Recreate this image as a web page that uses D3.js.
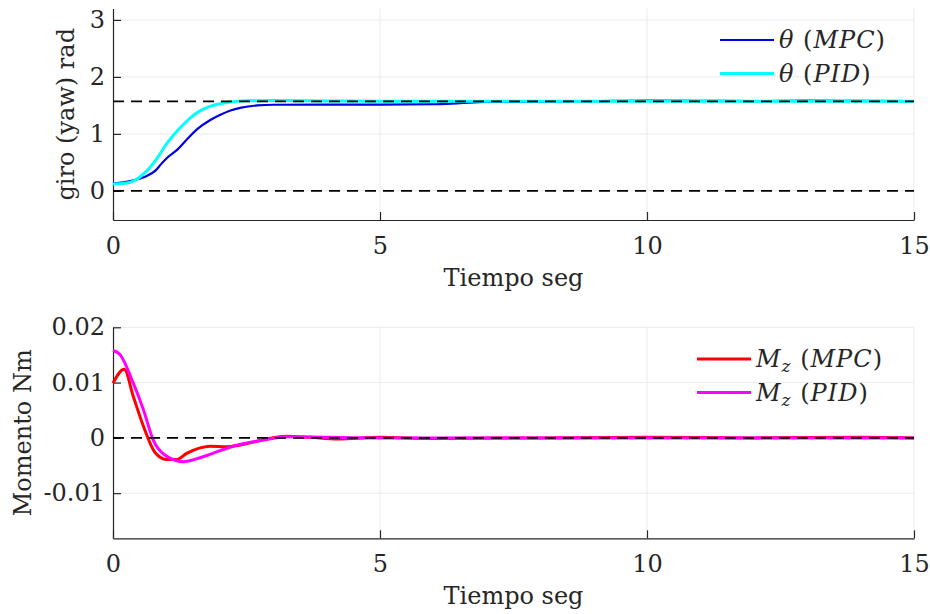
<!DOCTYPE html>
<html><head><meta charset="utf-8">
<script src="https://cdn.jsdelivr.net/npm/d3@7"></script>
<style>
body{margin:0;background:#fff;}
text{font-family:"DejaVu Serif","Liberation Serif",serif;fill:#262626;}
</style></head>
<body><svg id="c" width="930" height="614"></svg>
<script>
// ---- data ----
const xTicks = [0, 5, 10, 15];
const yawTicks = [0, 1, 2, 3];
const momTicks = [-0.01, 0, 0.01, 0.02];
const momTickLabels = ["-0.01", "0", "0.01", "0.02"];
const yawRef = [0, Math.PI / 2];
const momRef = [0];

const tMPC = [0, 0.2, 0.4, 0.6, 0.8, 0.9, 1.0, 1.2, 1.4, 1.6, 1.8, 2.0, 2.2, 2.4, 2.7, 3.0, 4, 5, 6, 6.5, 7, 8, 9, 10, 11, 12, 13, 14, 15];
const yawMPC = [0.13, 0.15, 0.19, 0.25, 0.36, 0.47, 0.57, 0.72, 0.92, 1.10, 1.23, 1.33, 1.41, 1.46, 1.50, 1.512, 1.515, 1.515, 1.52, 1.54, 1.56, 1.568, 1.575, 1.585, 1.582, 1.575, 1.585, 1.58, 1.575];
const tPID = [0, 0.2, 0.4, 0.6, 0.8, 1.0, 1.2, 1.4, 1.6, 1.8, 2.0, 2.2, 2.5, 3.0, 4, 5, 7, 10, 15];
const yawPID = [0.12, 0.13, 0.18, 0.32, 0.54, 0.82, 1.05, 1.24, 1.39, 1.48, 1.53, 1.56, 1.58, 1.585, 1.578, 1.572, 1.571, 1.571, 1.571];

const tMomMPC = [0, 0.21, 0.38, 0.57, 0.79, 1.0, 1.19, 1.38, 1.63, 1.82, 2.13, 2.57, 2.88, 3.25, 3.69, 4.2, 5, 6, 8, 10, 12, 14, 15];
const momMPC = [0.0099, 0.0124, 0.0075, 0.0021, -0.0027, -0.0039, -0.0039, -0.0028, -0.0018, -0.0015, -0.0016, -0.0009, -0.0002, 0.0003, 0.0001, -0.0002, 0.0001, -0.0001, 0.0, 0.0001, 0.0, 0.0001, 0.0];
const tMomPID = [0, 0.13, 0.38, 0.57, 0.75, 1.0, 1.32, 1.63, 2.25, 2.88, 3.25, 4, 5, 8, 15];
const momPID = [0.0158, 0.0151, 0.0099, 0.0051, -0.0003, -0.0033, -0.0043, -0.0036, -0.0015, -0.0003, 0.0002, 0.0001, 0.0, 0.0, 0.0];

const svg = d3.select("#c");
const left = 113, right = 914;
const FONT = '"DejaVu Serif","Liberation Serif",serif';
const x = d3.scaleLinear().domain([0, 15]).range([left, right]);

function panel(opts) {
  const y = d3.scaleLinear().domain(opts.yDomain).range([opts.bottom, opts.top]);
  const g = svg.append("g");
  // grid
  g.selectAll(".gx").data(xTicks.slice(1)).join("line")
    .attr("x1", d => x(d)).attr("x2", d => x(d)).attr("y1", opts.top).attr("y2", opts.bottom)
    .attr("stroke", "#ebebeb").attr("stroke-width", 1);
  g.selectAll(".gy").data(opts.yTicks).join("line")
    .attr("x1", left).attr("x2", right).attr("y1", d => y(d)).attr("y2", d => y(d))
    .attr("stroke", "#ebebeb").attr("stroke-width", 1);
  // axes (ticks inward)
  const xa = g.append("g").attr("transform", `translate(0,${opts.bottom})`)
    .call(d3.axisBottom(x).tickValues(xTicks).tickSizeInner(-8).tickSizeOuter(0).tickPadding(17));
  const ya = g.append("g").attr("transform", `translate(${left},0)`)
    .call(d3.axisLeft(y).tickValues(opts.yTicks).tickFormat((d, i) => opts.yLabels[i]).tickSizeInner(-8).tickSizeOuter(0).tickPadding(8));
  [xa, ya].forEach(a => {
    a.select(".domain").attr("stroke", "#262626").attr("stroke-width", 1.2);
    a.selectAll(".tick line").attr("stroke", "#262626").attr("stroke-width", 1.2);
    a.selectAll("text").attr("font-size", 24).attr("fill", "#262626").attr("font-family", FONT);
  });
  // series
  opts.series.forEach(s => {
    const pts = s.t.map((t, i) => [t, s.v[i]]);
    g.append("path").datum(pts)
      .attr("d", d3.line().x(d => x(d[0])).y(d => y(d[1])).curve(d3.curveMonotoneX))
      .attr("fill", "none").attr("stroke", s.color).attr("stroke-width", s.w)
      .attr("stroke-linejoin", "round");
  });
  // reference dashed lines
  g.selectAll(".ref").data(opts.refs).join("line")
    .attr("x1", left).attr("x2", right).attr("y1", d => y(d)).attr("y2", d => y(d))
    .attr("stroke", "#000").attr("stroke-width", 1.8).attr("stroke-dasharray", "11,7");
  // axis labels
  g.append("text").attr("x", x(7.5)).attr("y", opts.bottom + 66)
    .attr("text-anchor", "middle").attr("font-size", 24).attr("font-family", FONT).text("Tiempo seg");
  g.append("text").attr("transform", `translate(${opts.yLabelX},${(opts.top + opts.bottom) / 2}) rotate(-90)`)
    .attr("text-anchor", "middle").attr("font-size", 24).attr("font-family", FONT).text(opts.yTitle);
  // legend
  opts.series.forEach((s, i) => {
    const ly = opts.legY + i * 33.5;
    g.append("line").attr("x1", opts.legX).attr("x2", opts.legX + 54).attr("y1", ly).attr("y2", ly)
      .attr("stroke", s.color).attr("stroke-width", s.w);
    const t = g.append("text").attr("x", opts.legX + 59).attr("y", ly + 8).attr("font-size", 24)
      .attr("font-family", FONT).attr("fill", "#000").attr("letter-spacing", 1);
    s.label(t);
  });
}

function mathLabel(sym, sub, ctrl) {
  return t => {
    t.append("tspan").attr("font-style", "italic").text(sym);
    if (sub) t.append("tspan").attr("font-style", "italic").attr("font-size", 17).attr("dy", 5).text(sub);
    t.append("tspan").attr("dy", sub ? -5 : 0).text(" (");
    t.append("tspan").attr("font-style", "italic").text(ctrl);
    t.append("tspan").text(")");
  };
}

panel({
  top: 8.5, bottom: 220, yDomain: [-0.51, 3.2], yTicks: yawTicks, yLabels: yawTicks.map(String),
  refs: yawRef, yTitle: "giro (yaw) rad", yLabelX: 74,
  legX: 720, legY: 40,
  series: [
    {t: tMPC, v: yawMPC, color: "#0000e6", w: 2.2, label: mathLabel("θ", null, "MPC")},
    {t: tPID, v: yawPID, color: "#00ffff", w: 3, label: mathLabel("θ", null, "PID")}
  ]
});
panel({
  top: 327.3, bottom: 538.3, yDomain: [-0.01816, 0.02], yTicks: momTicks, yLabels: momTickLabels,
  refs: momRef, yTitle: "Momento Nm", yLabelX: 31,
  legX: 697, legY: 359,
  series: [
    {t: tMomMPC, v: momMPC, color: "#ff0000", w: 3, label: mathLabel("M", "z", "MPC")},
    {t: tMomPID, v: momPID, color: "#ff00ff", w: 3, label: mathLabel("M", "z", "PID")}
  ]
});
</script></body></html>
